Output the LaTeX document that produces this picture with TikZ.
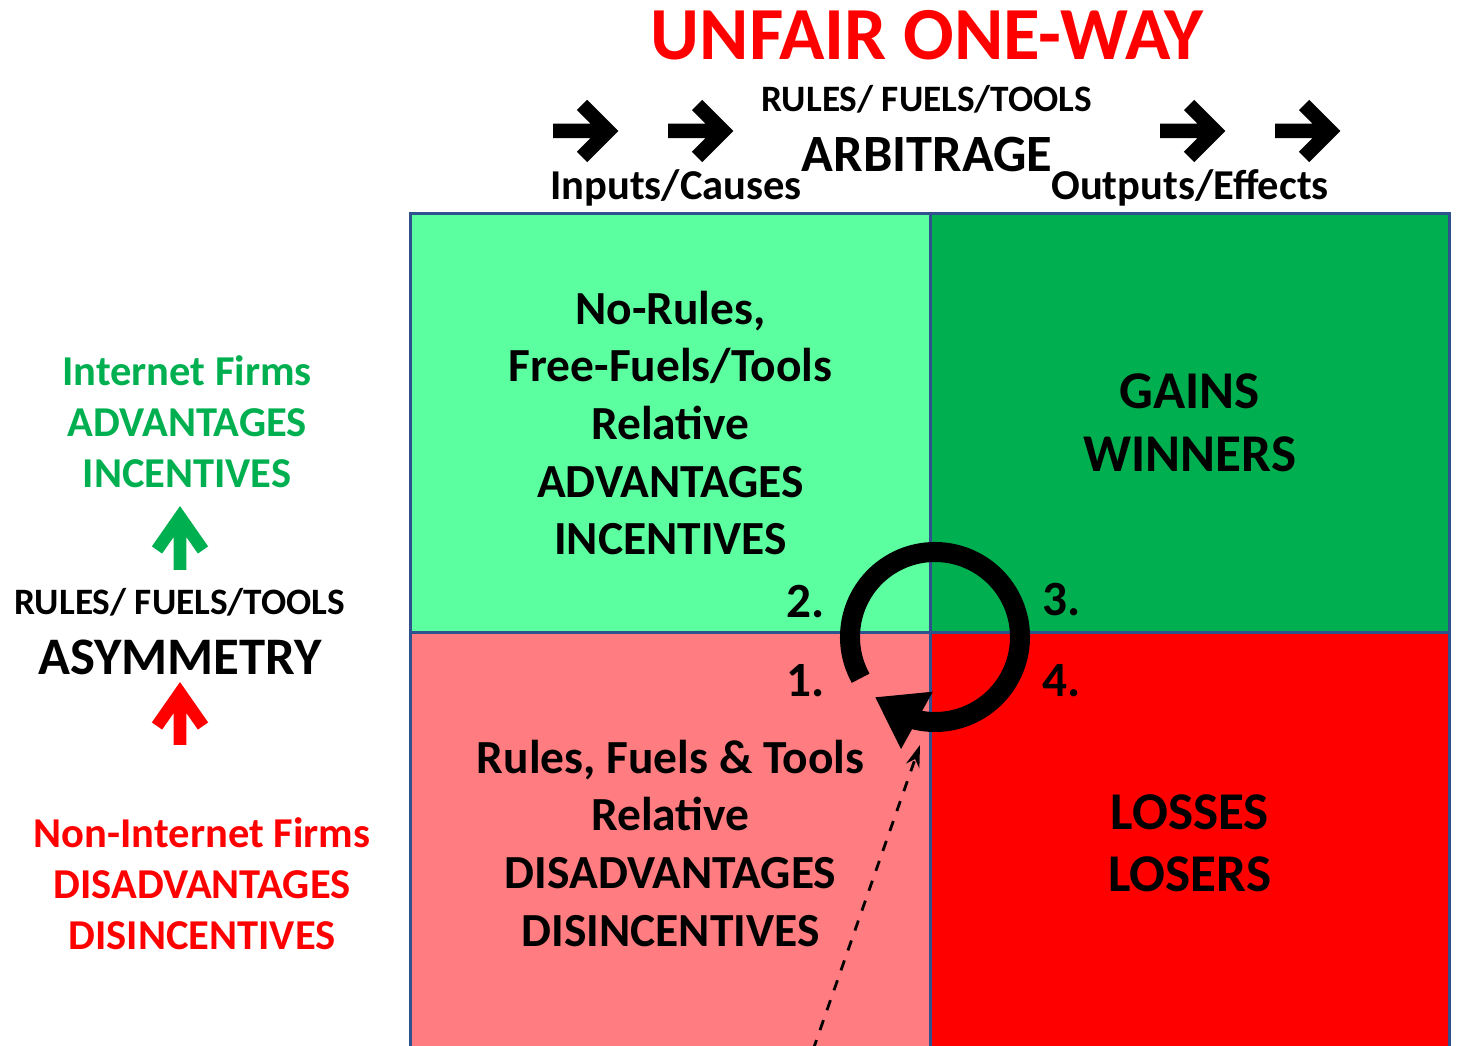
\documentclass[tikz,border=0pt]{standalone}
\usepackage{fontspec}
\setmainfont{Carlito}
\usetikzlibrary{arrows.meta,bending,positioning}

\definecolor{litegreen}{HTML}{5CFFA0}
\definecolor{darkgreen}{HTML}{00B050}
\definecolor{salmon}{HTML}{FF7C80}
\definecolor{gridblue}{HTML}{2F528F}

\tikzset{
  cell/.style={draw=gridblue,line width=0.03cm,outer sep=0pt,inner sep=0pt,
    minimum width=5.19cm,align=center},
  celltext/.style={font=\fontsize{13.5}{16.4}\selectfont\bfseries},
  bigtext/.style={font=\fontsize{15.1}{17.9}\selectfont\bfseries},
  num/.style={font=\fontsize{14}{16}\selectfont\bfseries},
  sidetext/.style={align=center,font=\fontsize{12.1}{14.5}\selectfont\bfseries},
  fat/.style={line width=0.145cm,line join=miter},
  uparrow/.style={line width=0.125cm,line join=miter},
}

\begin{document}
\begin{tikzpicture}[x=0.01cm,y=-0.01cm]
	\useasboundingbox (0,0) rectangle (1463,1046);
	\clip (0,0) rectangle (1463,1046);
	% the four quadrants
	\node[cell,fill=litegreen,minimum height=4.18cm,celltext] (cell_2) at (670.5,423)
	   {No-Rules,\\Free-Fuels/Tools\\Relative\\ADVANTAGES\\INCENTIVES};
	\node[cell,fill=darkgreen,minimum height=4.18cm,bigtext] (cell_3) [right=0pt of cell_2]
	   {GAINS\\WINNERS};
	\node[cell,fill=salmon,minimum height=4.22cm,celltext] (cell_1) [below=0pt of cell_2]
	   {Rules, Fuels \& Tools\\Relative\\DISADVANTAGES\\DISINCENTIVES};
	\node[cell,fill=red,minimum height=4.22cm,bigtext] (cell_4) [right=0pt of cell_1]
	   {LOSSES\\LOSERS};
	% step numbers
	\node[num] (n_2) at (806,602) {2.};
	\node[num] (n_3) at (1062,600) {3.};
	\node[num] (n_1) at (806,681) {1.};
	\node[num] (n_4) at (1062,681) {4.};
	% cycle
	\coordinate (cyc) at (935,637);
	\draw[line width=0.2cm,-{Triangle[length=0.48cm,width=0.62cm]}]
	   ([shift={(151:85)}]cyc) arc[start angle=151,end angle=495,radius=85];
	\coordinate (dash_start) at (813,1050);
	\coordinate (dash_end) at (920,745);
	\draw[line width=0.028cm,dashed,-{Stealth[length=0.22cm,width=0.14cm]}] (dash_start) -- (dash_end);
	% heading
	\node[text=red,font=\fontsize{21.3}{24}\selectfont\bfseries] (title) at (927,35) {UNFAIR ONE-WAY};
	\node[font=\fontsize{10.6}{12}\selectfont\bfseries] (rft_top) at (927,99) {RULES/ FUELS/TOOLS};
	\node[font=\fontsize{14.9}{17}\selectfont\bfseries] (arb) at (927,155) {ARBITRAGE};
	\node[font=\fontsize{12.1}{14}\selectfont\bfseries] (inputs) at (676,188) {Inputs/Causes};
	\node[font=\fontsize{12.1}{14}\selectfont\bfseries] (outputs) at (1190,188) {Outputs/Effects};
	\foreach \x in {553,668,1160,1275}
	   \draw[fat] (\x,131) -- ++(50,0) (\x+29,105) -- (\x+55,131) -- (\x+29,157);
	% left side
	\node[sidetext,text=darkgreen] (adv) at (187,422) {Internet Firms\\ADVANTAGES\\INCENTIVES};
	\node[font=\fontsize{10.6}{12}\selectfont\bfseries] (rft_left) at (180,602) {RULES/ FUELS/TOOLS};
	\node[font=\fontsize{15}{17}\selectfont\bfseries] (asym) at (180,657) {ASYMMETRY};
	\node[sidetext,text=red] (disadv) at (202,884) {Non-Internet Firms\\DISADVANTAGES\\DISINCENTIVES};
	\draw[uparrow,darkgreen] (180,570) -- (180,520) (157,550) -- (180,517) -- (203,550);
	\draw[uparrow,red] (180,745) -- (180,696) (157,726) -- (180,693) -- (203,726);
\end{tikzpicture}
\end{document}
